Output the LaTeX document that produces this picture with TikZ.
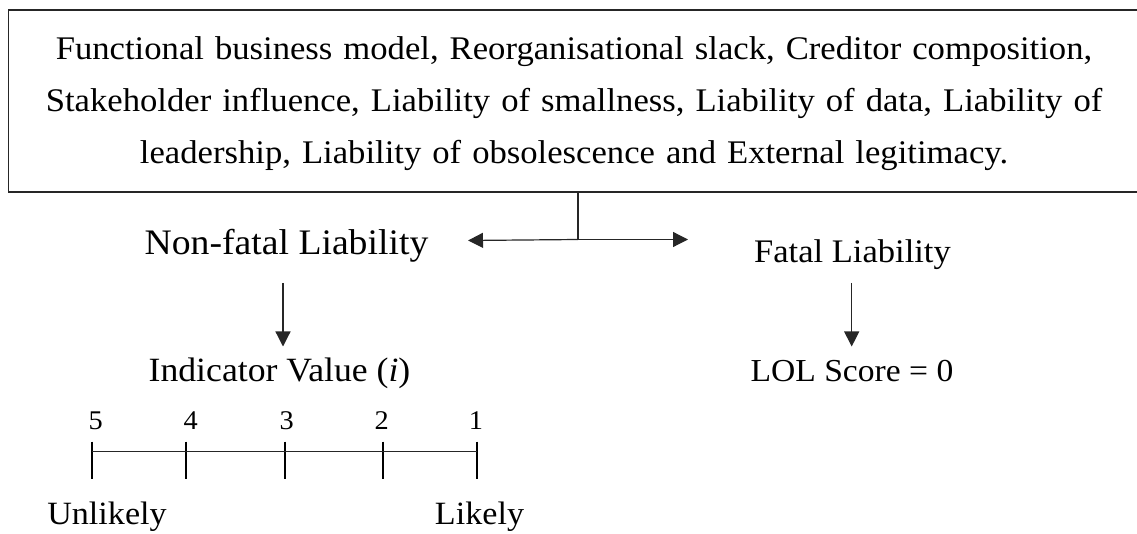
\documentclass[tikz,border=0pt]{standalone}
\usepackage{fontspec}
\setmainfont{Liberation Serif}[FakeStretch=1.05]
\usetikzlibrary{arrows.meta}

\tikzset{
  lbl/.style={inner sep=0pt, anchor=base, text=black},
  link/.style={line width=1.2pt, draw=black!85},
  arr/.style={link, -{Triangle[length=15pt,width=15pt]}},
  tick/.style={line width=1.7pt, draw=black},
}
\newcommand{\fs}[1]{\fontsize{#1}{#1}\selectfont}

\begin{document}
\begin{tikzpicture}[x=1pt, y=-1pt]
  \useasboundingbox (0,0) rectangle (1137,534);

  % factor box (open on the right)
  \node[draw=black!85, line width=1.2pt, minimum width=1160pt, minimum height=182pt,
        inner sep=0pt, anchor=north west] (box) at (7.7,9.5) {};
  \node[lbl, align=center, font=\fontsize{33}{52}\selectfont, text width=1100pt,
        anchor=base] (factors) at (574,59.3)
    {Functional business model, Reorganisational slack, Creditor composition,\\
     Stakeholder influence, Liability of smallness, Liability of data, Liability of\\
     leadership, Liability of obsolescence and External legitimacy.};

  % branch into the two liability kinds
  \coordinate (j) at (578,239.5);
  \coordinate (nfin) at (468,240.5);
  \coordinate (fin) at (688,239.5);
  \draw[link] (box.south -| j) -- (j);
  \draw[arr] (j) -- (nfin);
  \draw[arr] (j) -- (fin);

  \node[lbl, font=\fs{35.9}] (nf) at (286.5,255) {Non-fatal Liability};
  \node[lbl, font=\fs{32.9}] (fatal) at (852.5,263) {Fatal Liability};

  % downward arrows
  \coordinate (nfout) at (283,283);
  \coordinate (indin) at (283,346.5);
  \coordinate (fout) at (851.7,283);
  \coordinate (lolin) at (851.7,346.5);
  \draw[arr] (nfout) -- (indin);
  \draw[arr] (fout) -- (lolin);

  \node[lbl, font=\fs{34}] (ind) at (279.5,381) {Indicator Value (\textit{i})};
  \node[lbl, font=\fs{32}] (lol) at (852,381) {LOL Score = 0};

  % indicator scale
  \foreach \v/\x/\nx in {5/91.7/95.7, 4/185.7/190.7, 3/285/286.7, 2/383.3/381.7, 1/476.7/476} {
    \coordinate (t\v) at (\x,451.7);
    \draw[tick] (\x,441.7) -- (\x,479.3);
    \node[lbl, font=\fs{27}] (n\v) at (\nx,429.5) {\v};
  }
  \draw[link] (t5) -- (t1);

  \node[lbl, font=\fs{32.5}] (unlikely) at (107,524) {Unlikely};
  \node[lbl, font=\fs{32.5}] (likely) at (479.5,524) {Likely};
\end{tikzpicture}
\end{document}
